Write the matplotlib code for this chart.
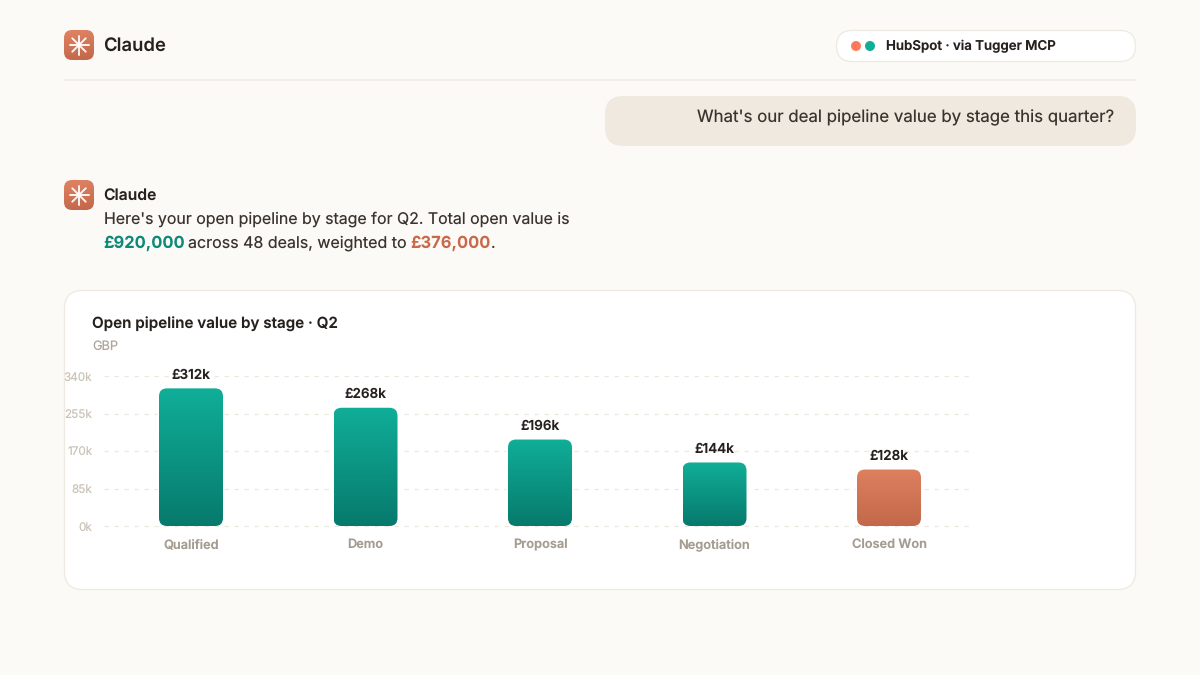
import numpy as np
import matplotlib
matplotlib.use("Agg")
import matplotlib.pyplot as plt
from matplotlib.colors import LinearSegmentedColormap
from matplotlib.patches import FancyBboxPatch, Circle
from matplotlib.transforms import ScaledTranslation

stages = ["Qualified", "Demo", "Proposal", "Negotiation", "Closed Won"]
values = [312, 268, 196, 144, 128]
value_labels = ["£312k", "£268k", "£196k", "£144k", "£128k"]
y_ticks = [0, 85, 170, 255, 340]
y_tick_labels = ["0k", "85k", "170k", "255k", "340k"]

plt.rcParams["font.family"] = ["Inter", "DejaVu Sans"]
plt.rcParams["text.hinting"] = "no_hinting"

W, H = 1200, 675
BG = "#FCFAF6"
INK = "#2A2522"
BORDER = "#EEE9E1"
TEAL_CMAP = LinearSegmentedColormap.from_list("teal", ["#10AE98", "#077A6C"])
CORAL_CMAP = LinearSegmentedColormap.from_list("coral", ["#DD8060", "#C3684A"])
ICON_CMAP = LinearSegmentedColormap.from_list("icon", ["#DE8263", "#C3684A"])


def px(size):
    # css px to points at dpi 100
    return size * 0.72


fig = plt.figure(figsize=(W / 100, H / 100), dpi=100, facecolor=BG)

# page layer, in pixels with y going down
page = fig.add_axes([0, 0, 1, 1])
page.set_xlim(0, W)
page.set_ylim(H, 0)
page.axis("off")


def box(x0, y0, x1, y1, r, fc, ec="none", lw=0):
    p = FancyBboxPatch((x0 + r, y0 + r), x1 - x0 - 2 * r, y1 - y0 - 2 * r,
                       boxstyle="round,pad=%f,rounding_size=%f" % (r, r),
                       fc=fc, ec=ec, lw=lw)
    page.add_patch(p)
    return p


def icon(x0, y0):
    clip = box(x0, y0, x0 + 30, y0 + 30, 8, "none")
    grad = np.linspace(0, 1, 64).reshape(8, 8)
    im = page.imshow(grad, extent=[x0, x0 + 30, y0 + 30, y0], cmap=ICON_CMAP,
                     aspect="auto", interpolation="bilinear")
    im.set_clip_path(clip)
    cx, cy = x0 + 15, y0 + 15
    for a in np.arange(8) * np.pi / 4:
        page.plot([cx, cx + 9.5 * np.cos(a)], [cy, cy + 9.5 * np.sin(a)],
                  color="white", lw=1.4, alpha=0.92, solid_capstyle="round")
    page.add_patch(Circle((cx, cy), 2, fc="white", ec="none"))


def text(x, y, s, size, color=INK, weight="normal", ha="left"):
    return page.text(x, y, s, fontsize=px(size), color=color, fontweight=weight,
                     ha=ha, va="center_baseline")


# header
icon(64, 30)
text(103.5, 44, "Claude", 18.5, "#26211E", "semibold")
page.plot([64, 1136], [80, 80], color="#F0EBE4", lw=1.2)
box(836.5, 30.5, 1135.5, 61.5, 15.5, "white", BORDER, 0.9)
page.add_patch(Circle((856, 46), 5, fc="#FF7A5C", ec="none"))
page.add_patch(Circle((870, 46), 5, fc="#10AE98", ec="none"))
text(886, 45, "HubSpot · via Tugger MCP", 13.3, "#26211E", "semibold")

# user bubble
box(605, 96, 1136, 146, 18, "#F0E9E0")
text(1114, 115.5, "What's our deal pipeline value by stage this quarter?", 16.85,
     "#3A332E", "normal", "right")

# reply
icon(64, 180)
text(103.5, 194, "Claude", 15.7, "#26211E", "semibold")
text(104, 217.5, "Here's your open pipeline by stage for Q2. Total open value is", 15.9, "#3A332E")
text(103.5, 241.5, "£920,000", 16.5, "#0C8A78", "bold")
text(188, 241.5, "across 48 deals, weighted to", 16.0, "#3A332E")
text(410.5, 241.5, "£376,000", 16.5, "#C9694B", "bold")
text(491, 241.5, ".", 16, "#3A332E")

# card
box(64.5, 290.5, 1135.5, 589.5, 18, "white", BORDER, 0.9)
text(92, 322.5, "Open pipeline value by stage · Q2", 15.2, "#26211E", "semibold")
text(92, 345, "GBP", 12.8, "#B0A79C")

# chart, pixel box of the plot area
left, right, top, bottom = 104, 972, 376, 526
ax = fig.add_axes([left / W, 1 - bottom / H, (right - left) / W, (bottom - top) / H])
ax.patch.set_alpha(0)
step = 174.5
ax.set_xlim((left - 191) / step, (right - 191) / step)
ax.set_ylim(0, 340)
for s in ax.spines.values():
    s.set_visible(False)
ax.set_yticks(y_ticks, y_tick_labels, fontsize=px(11.7), color="#CBC3B8", va="center_baseline")
ax.set_xticks(range(len(stages)), stages, fontsize=px(12.8), color="#A59C90", fontweight="semibold",
              va="baseline")
ax.tick_params(axis="y", length=0, pad=8.3)
ax.tick_params(axis="x", length=0, pad=16)
# nudge y tick labels down one pixel
for t in ax.get_yticklabels():
    t.set_transform(t.get_transform() + ScaledTranslation(0, -1 / 100, fig.dpi_scale_trans))
for y in y_ticks:
    ax.plot([ax.get_xlim()[0], ax.get_xlim()[1]], [y, y], color="#EDE8DD", lw=0.9,
            dashes=(3.5, 4.5), clip_on=False, zorder=1)
ax.set_xlim((left - 191) / step, (right - 191) / step)
ax.set_ylim(0, 340)

bar_w = 64 / step
round_x = 8 / step
aspect = (340 / 150) / (1 / step)
grad = np.linspace(0, 1, 128).reshape(-1, 1)
for i, (v, lab) in enumerate(zip(values, value_labels)):
    x0 = i - bar_w / 2
    inset_y = round_x * aspect
    patch = FancyBboxPatch((x0 + round_x, inset_y), bar_w - 2 * round_x, v - 2 * inset_y,
                           boxstyle="round,pad=%f,rounding_size=%f" % (round_x, round_x),
                           mutation_aspect=aspect, fc="none", ec="none", zorder=2)
    ax.add_patch(patch)
    halo = FancyBboxPatch((x0 + round_x, inset_y), bar_w - 2 * round_x, v - 2 * inset_y,
                          boxstyle="round,pad=%f,rounding_size=%f" % (round_x, round_x),
                          mutation_aspect=aspect, fc="white", ec="white", lw=2, zorder=2)
    ax.add_patch(halo)
    cmap = CORAL_CMAP if stages[i] == "Closed Won" else TEAL_CMAP
    im = ax.imshow(grad, extent=[x0, x0 + bar_w, 0, v], cmap=cmap, aspect="auto",
                   origin="upper", zorder=3, interpolation="bilinear")
    im.set_clip_path(patch)
    ax.annotate(lab, (i, v), xytext=(0, 15), textcoords="offset pixels", ha="center",
                va="center_baseline", fontsize=px(13.5), color="#26211E", fontweight="semibold", zorder=4)
ax.set_xlim((left - 191) / step, (right - 191) / step)
ax.set_ylim(0, 340)

fig.savefig("out.png", dpi=100, facecolor=BG)
